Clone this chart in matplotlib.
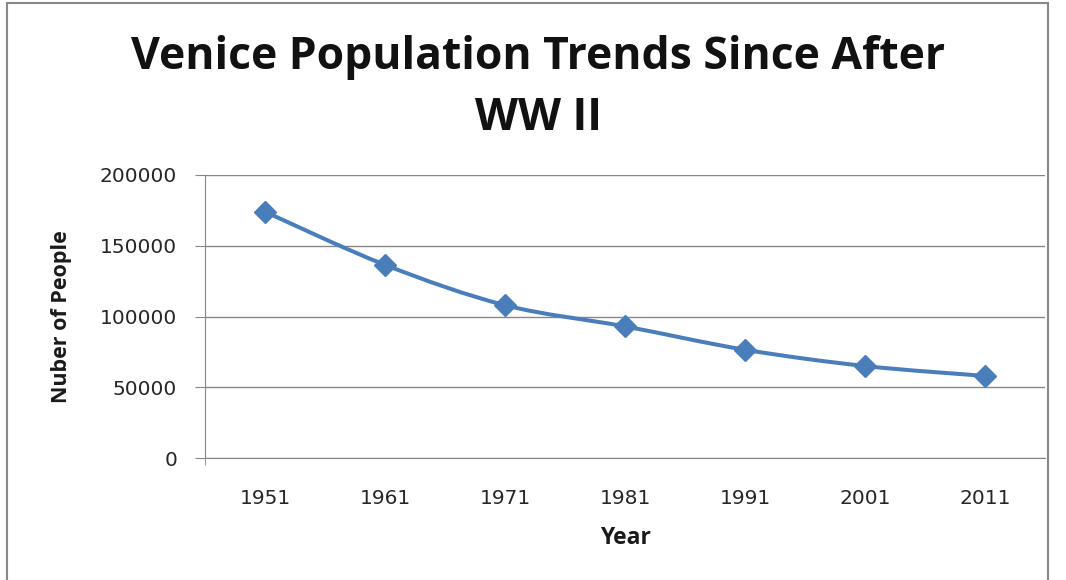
import matplotlib
matplotlib.use("Agg")
import matplotlib.pyplot as plt
from matplotlib.path import Path
from matplotlib.patches import PathPatch, Rectangle

years = ["1951", "1961", "1971", "1981", "1991", "2001", "2011"]
population = [174000, 136500, 108000, 93000, 76500, 65000, 58000]
y_ticks = [0, 50000, 100000, 150000, 200000]

LINE = "#4A7EBB"
GRID = "#878787"
TXT = "#262626"

plt.rcParams["font.family"] = ["Open Sans", "DejaVu Sans"]

fig = plt.figure(figsize=(10.66, 5.8), dpi=100)
ax = fig.add_axes([205 / 1066, 1 - 458 / 580, 840 / 1066, 283 / 580])

xs = list(range(len(years)))

# smoothed line (Catmull-Rom to Bezier, like Excel's smoothed line)
verts = [(xs[0], population[0])]
codes = [Path.MOVETO]
n = len(xs)
for i in range(n - 1):
    p0 = (xs[max(i - 1, 0)], population[max(i - 1, 0)])
    p1 = (xs[i], population[i])
    p2 = (xs[i + 1], population[i + 1])
    p3 = (xs[min(i + 2, n - 1)], population[min(i + 2, n - 1)])
    c1 = (p1[0] + (p2[0] - p0[0]) / 6, p1[1] + (p2[1] - p0[1]) / 6)
    c2 = (p2[0] - (p3[0] - p1[0]) / 6, p2[1] - (p3[1] - p1[1]) / 6)
    verts += [c1, c2, p2]
    codes += [Path.CURVE4] * 3
ax.add_patch(PathPatch(Path(verts, codes), facecolor="none", edgecolor=LINE,
                       lw=2.9, capstyle="round", joinstyle="round", zorder=3))
ax.plot(xs, population, linestyle="none", marker="D", markersize=11,
        color=LINE, zorder=4)

ax.set_xlim(-0.5, n - 0.5)
ax.set_ylim(0, 200000)
ax.set_yticks(y_ticks)
ax.set_yticklabels([str(v) for v in y_ticks], family="DejaVu Sans")
ax.set_xticks(xs)
ax.set_xticklabels(years, family="DejaVu Sans")
ax.set_xticks([-0.5], minor=True)
ax.grid(axis="y", color=GRID, lw=1)
ax.set_axisbelow(True)
for s in ["top", "right"]:
    ax.spines[s].set_visible(False)
ax.spines["left"].set_color(GRID)
ax.spines["bottom"].set_color(GRID)
ax.tick_params(axis="y", length=7, color=GRID, labelsize=14.5, labelcolor=TXT, pad=13)
ax.tick_params(axis="x", length=0, labelsize=14.5, labelcolor=TXT, pad=22)
ax.tick_params(axis="x", which="minor", length=5, color=GRID)

ax.set_xlabel("Year", fontsize=16.5, fontweight="bold", color="#1a1a1a", labelpad=13)
ax.set_ylabel("Nuber of People", fontsize=15.5, fontweight="bold", color="#1a1a1a")
ax.yaxis.set_label_coords((72 - 205) / 840, 0.5)

fig.text(0.505, 1 - 58 / 580, "Venice Population Trends Since After", ha="center",
         va="center", fontsize=32, fontweight="bold", color="#111111")
fig.text(0.505, 1 - 118 / 580, "WW II", ha="center", va="center",
         fontsize=32, fontweight="bold", color="#111111")

fig.patches.append(Rectangle((7 / 1066, -0.01), 1041 / 1066, 1 - 3 / 580 + 0.01,
                             transform=fig.transFigure, fill=False,
                             edgecolor="#888888", lw=1.5))

fig.savefig("out.png", dpi=100)
